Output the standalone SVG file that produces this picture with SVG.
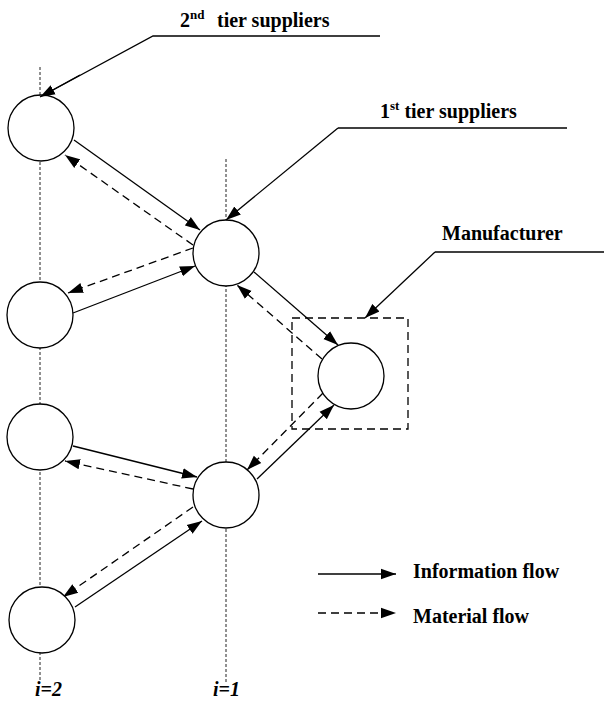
<svg xmlns="http://www.w3.org/2000/svg" width="604" height="707" viewBox="0 0 604 707">
<defs>
<marker id="ah" markerUnits="userSpaceOnUse" markerWidth="16" markerHeight="12" refX="15" refY="6" orient="auto">
<path d="M0,0.8 L15,6 L0,11.2 z" fill="#000"/>
</marker>
<style>
.node{fill:#fff;stroke:#000;stroke-width:1.3}
.axis{stroke:#222;stroke-width:1;stroke-dasharray:3,2;fill:none}
.info{stroke:#000;stroke-width:1.3;fill:none;marker-end:url(#ah)}
.mat{stroke:#000;stroke-width:1.3;fill:none;stroke-dasharray:8,5;marker-end:url(#ah)}
.lead{stroke:#000;stroke-width:1.3;fill:none}
</style>
</defs>
<rect width="604" height="707" fill="#fff"/>
<g id="axes">
<line class="axis" x1="40" y1="67" x2="40" y2="682"/>
<line class="axis" x1="226" y1="159" x2="226" y2="682"/>
<text x="35" y="696" font-family="Liberation Serif" font-weight="bold" font-style="italic" font-size="20">i=2</text>
<text x="213" y="696" font-family="Liberation Serif" font-weight="bold" font-style="italic" font-size="20">i=1</text>
</g>
<g id="manufacturer-box">
<rect x="292" y="318" width="116" height="111" fill="none" stroke="#000" stroke-width="1.3" stroke-dasharray="8,5"/>
</g>
<g id="connectors">
<line class="info" x1="74" y1="140" x2="200" y2="230"/>
<line class="mat" x1="193" y1="245" x2="65" y2="155"/>
<line class="info" x1="73" y1="313" x2="195" y2="266"/>
<line class="mat" x1="193" y1="248" x2="68" y2="293"/>
<line class="info" x1="254" y1="272" x2="338" y2="345"/>
<line class="mat" x1="322" y1="359" x2="237" y2="285"/>
<line class="info" x1="257" y1="479" x2="334" y2="405"/>
<line class="mat" x1="323" y1="393" x2="247" y2="470"/>
<line class="info" x1="73" y1="446" x2="197" y2="477"/>
<line class="mat" x1="193" y1="489" x2="65" y2="461"/>
<line class="info" x1="75" y1="607" x2="202" y2="521"/>
<line class="mat" x1="193" y1="507" x2="63" y2="597"/>
</g>
<g id="s2a"><circle class="node" cx="41" cy="128" r="33"/></g>
<g id="s2b"><circle class="node" cx="40" cy="315" r="33"/></g>
<g id="s2c"><circle class="node" cx="40" cy="437" r="33"/></g>
<g id="s2d"><circle class="node" cx="42" cy="620" r="33"/></g>
<g id="s1a"><circle class="node" cx="226" cy="253" r="33"/></g>
<g id="s1b"><circle class="node" cx="226" cy="495" r="33"/></g>
<g id="m"><circle class="node" cx="351" cy="376" r="33"/></g>
<g id="label-2nd">
<polyline class="lead" points="380,36 153,36 53,90"/>
<line class="info" x1="80" y1="75" x2="40" y2="97"/>
<text x="180" y="27" font-family="Liberation Serif" font-weight="bold" font-size="20">2<tspan font-size="13" dy="-8">nd</tspan><tspan dy="8" x="217">tier suppliers</tspan></text>
</g>
<g id="label-1st">
<polyline class="lead" points="567,128 338,128"/>
<line class="info" x1="338" y1="128" x2="226" y2="220"/>
<text x="380" y="118" font-family="Liberation Serif" font-weight="bold" font-size="20">1<tspan font-size="13" dy="-8">st</tspan><tspan dy="8"> tier suppliers</tspan></text>
</g>
<g id="label-m">
<polyline class="lead" points="604,252 435,252"/>
<line class="info" x1="435" y1="252" x2="365" y2="318"/>
<text x="442" y="240" font-family="Liberation Serif" font-weight="bold" font-size="20">Manufacturer</text>
</g>
<g id="legend">
<line class="info" x1="318" y1="574" x2="396" y2="574"/>
<line class="mat" x1="318" y1="613" x2="396" y2="613"/>
<text x="413" y="578" font-family="Liberation Serif" font-weight="bold" font-size="20">Information flow</text>
<text x="413" y="623" font-family="Liberation Serif" font-weight="bold" font-size="20">Material flow</text>
</g>
</svg>
